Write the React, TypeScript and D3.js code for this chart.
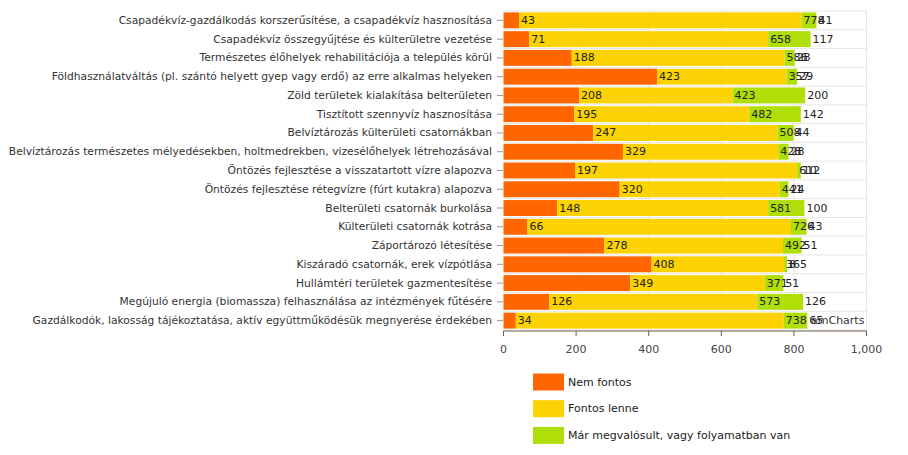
import React from "react";
import * as d3 from "d3";

const categories = [
  "Csapadékvíz-gazdálkodás korszerűsítése, a csapadékvíz hasznosítása",
  "Csapadékvíz összegyűjtése és külterületre vezetése",
  "Természetes élőhelyek rehabilitációja a település körül",
  "Földhasználatváltás (pl. szántó helyett gyep vagy erdő) az erre alkalmas helyeken",
  "Zöld területek kialakítása belterületen",
  "Tisztított szennyvíz hasznosítása",
  "Belvíztározás külterületi csatornákban",
  "Belvíztározás természetes mélyedésekben, holtmedrekben, vizesélőhelyek létrehozásával",
  "Öntözés fejlesztése a visszatartott vízre alapozva",
  "Öntözés fejlesztése rétegvízre (fúrt kutakra) alapozva",
  "Belterületi csatornák burkolása",
  "Külterületi csatornák kotrása",
  "Záportározó létesítése",
  "Kiszáradó csatornák, erek vízpótlása",
  "Hullámtéri területek gazmentesítése",
  "Megújuló energia (biomassza) felhasználása az intézmények fűtésére",
  "Gazdálkodók, lakosság tájékoztatása, aktív együttműködésük megnyerése érdekében",
];

const seriesNames = ["Nem fontos", "Fontos lenne", "Már megvalósult, vagy folyamatban van"];
const nemFontos = [43, 71, 188, 423, 208, 195, 247, 329, 197, 320, 148, 66, 278, 408, 349, 126, 34];
const fontosLenne = [778, 658, 586, 357, 423, 482, 508, 428, 612, 441, 581, 726, 492, 365, 371, 573, 738];
const marMegvalosult = [41, 117, 28, 29, 200, 142, 44, 28, 10, 24, 100, 43, 51, 8, 51, 126, 65];
const colors = ["#FF6600", "#FCD202", "#B0DE09"];
const xTicks = [0, 200, 400, 600, 800, 1000];

const FONT = "'DejaVu Sans', Verdana, sans-serif";

export default function App() {
  const W = 908;
  const H = 455;
  const x = d3.scaleLinear().domain([0, 1000]).range([503.5, 866.5]);
  const y = d3
    .scaleBand<string>()
    .domain(categories)
    .range([11, 330])
    .paddingInner(0.15)
    .paddingOuter(0.075);
  const step = y.step();
  const rows = categories.map((c, i) => ({
    key: c,
    vals: [nemFontos[i], fontosLenne[i], marMegvalosult[i]],
  }));
  const stack = d3.stack<any>().keys(["0", "1", "2"]).value((d: any, k: string) => d.vals[+k]);
  const stacked = stack(rows as any);
  const fmt = d3.format(",");
  const axisY = 331;

  return (
    <svg
      width={W}
      height={H}
      style={{ position: "absolute", left: 0, top: 0, background: "#fff" }}
      fontFamily={FONT}
    >
      <rect x={0} y={0} width={W} height={H} fill="#fff" />
      {d3.range(categories.length + 1).map((i) => (
        <line
          key={"hg" + i}
          x1={x(0)}
          x2={x(1000)}
          y1={11 + i * step}
          y2={11 + i * step}
          stroke="#e6e6e6"
          strokeWidth={1}
        />
      ))}
      {xTicks.slice(1).map((t) => (
        <line key={"vg" + t} x1={x(t)} x2={x(t)} y1={11} y2={axisY} stroke="#e6e6e6" strokeWidth={1} />
      ))}
      {stacked.map((layer, si) => (
        <g key={"s" + si} fill={colors[si]}>
          {layer.map((d: any, i: number) => (
            <rect
              key={i}
              x={x(d[0])}
              y={y(categories[i])}
              width={Math.max(0, x(d[1]) - x(d[0]))}
              height={y.bandwidth()}
            />
          ))}
        </g>
      ))}
      {stacked.map((layer, si) => (
        <g key={"l" + si} fontSize={11} fill="#222">
          {layer.map((d: any, i: number) => (
            <text
              key={i}
              x={x(d[1]) + 2}
              y={(y(categories[i]) as number) + y.bandwidth() / 2}
              dominantBaseline="central"
            >
              {d[1] - d[0]}
            </text>
          ))}
        </g>
      ))}
      {categories.map((c) => {
        const cy = (y(c) as number) + y.bandwidth() / 2;
        return (
          <g key={"c" + c}>
            <line x1={497} x2={503} y1={cy} y2={cy} stroke="#999" />
            <text x={492} y={cy} textAnchor="end" dominantBaseline="central" fontSize={10.7} fill="#333">
              {c}
            </text>
          </g>
        );
      })}
      <line x1={x(0)} x2={x(1000)} y1={axisY} y2={axisY} stroke="#6e5d4a" strokeWidth={1} />
      {xTicks.map((t) => (
        <g key={"xt" + t}>
          <line x1={x(t)} x2={x(t)} y1={axisY} y2={axisY + 5} stroke="#6e5d4a" />
          <text x={x(t)} y={349} textAnchor="middle" dominantBaseline="central" fontSize={11} fill="#444">
            {fmt(t)}
          </text>
        </g>
      ))}
      <text x={811} y={320} dominantBaseline="central" fontSize={11} fill="#333">
        amCharts
      </text>
      {seriesNames.map((n, i) => {
        const cy = 382 + i * 26.7;
        return (
          <g key={"lg" + i}>
            <rect x={533} y={cy - 8.5} width={31} height={17} fill={colors[i]} />
            <text x={568} y={cy} dominantBaseline="central" fontSize={11} fill="#222">
              {n}
            </text>
          </g>
        );
      })}
    </svg>
  );
}
